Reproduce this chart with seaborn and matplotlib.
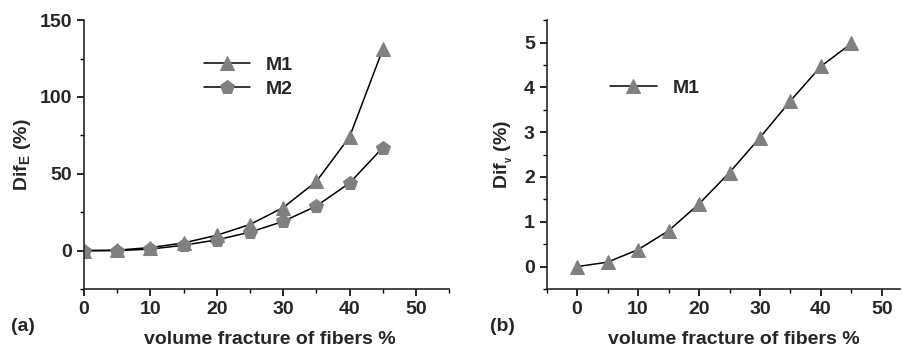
import pandas as pd
import seaborn as sns
import matplotlib.pyplot as plt
from matplotlib.ticker import MultipleLocator

# data
vf = [0, 5, 10, 15, 20, 25, 30, 35, 40, 45]
difE_m1 = [0, 0.3, 2, 5, 10, 17, 28, 45, 74, 131]
difE_m2 = [0, 0, 1, 3.5, 7, 12, 19, 29, 44, 67]
difv_m1 = [0, 0.1, 0.38, 0.8, 1.4, 2.1, 2.88, 3.7, 4.47, 4.98]

sns.set_style("ticks")
plt.rcParams['font.family'] = ['Liberation Sans', 'DejaVu Sans']
plt.rcParams['font.weight'] = 'bold'
plt.rcParams['mathtext.fontset'] = 'custom'
plt.rcParams['mathtext.rm'] = 'Liberation Sans:bold'
plt.rcParams['mathtext.default'] = 'rm'

fig = plt.figure(figsize=(9.02, 3.47), dpi=100)
axa = fig.add_axes([0.093, 0.167, 0.405, 0.775])
axb = fig.add_axes([0.606, 0.167, 0.392, 0.775])

grey = '#808080'
dfa = pd.DataFrame({'vf': vf * 2, 'dif': difE_m1 + difE_m2,
                    'model': ['M1'] * 10 + ['M2'] * 10})
sns.lineplot(data=dfa, x='vf', y='dif', style='model', markers=['^', 'p'],
             dashes=False, color='black', lw=1.1, markersize=10,
             markerfacecolor=grey, markeredgecolor=grey, ax=axa)
dfb = pd.DataFrame({'vf': vf, 'dif': difv_m1, 'model': ['M1'] * 10})
sns.lineplot(data=dfb, x='vf', y='dif', style='model', markers=['^'],
             dashes=False, color='black', lw=1.1, markersize=10,
             markerfacecolor=grey, markeredgecolor=grey, ax=axb)

axa.set_xlim(0, 55)
axa.set_ylim(-25, 150)
axa.xaxis.set_major_locator(MultipleLocator(10))
axa.xaxis.set_minor_locator(MultipleLocator(5))
axa.yaxis.set_major_locator(MultipleLocator(50))
axa.yaxis.set_minor_locator(MultipleLocator(25))
axa.set_ylabel('Dif$_{E}$ (%)', fontsize=14, fontweight='bold')

axb.set_xlim(-5, 53)
axb.set_ylim(-0.5, 5.5)
axb.xaxis.set_major_locator(MultipleLocator(10))
axb.xaxis.set_minor_locator(MultipleLocator(5))
axb.yaxis.set_major_locator(MultipleLocator(1))
axb.yaxis.set_minor_locator(MultipleLocator(0.5))
axb.set_ylabel('Dif$_{_{v}}$ (%)', fontsize=14, fontweight='bold')

for ax in (axa, axb):
    sns.despine(ax=ax)
    ax.spines['left'].set_linewidth(1.2)
    ax.spines['bottom'].set_linewidth(1.2)
    ax.tick_params(which='major', direction='out', length=5, width=1.2,
                   labelsize=14, color='black')
    ax.tick_params(which='minor', direction='out', length=3, width=1, color='black')
    for lab in ax.get_xticklabels() + ax.get_yticklabels():
        lab.set_fontweight('bold')
    ax.set_xlabel('volume fracture of fibers %', fontsize=14, fontweight='bold')

axa.xaxis.set_label_coords(0.51, -0.155)
axb.xaxis.set_label_coords(0.53, -0.155)

axa.legend(title=None, frameon=False, loc='upper left', bbox_to_anchor=(0.28, 0.93),
           prop={'size': 14, 'weight': 'bold'}, handlelength=2.4, labelspacing=0.3)
axb.legend(title=None, frameon=False, loc='upper left', bbox_to_anchor=(0.13, 0.845),
           prop={'size': 14, 'weight': 'bold'}, handlelength=2.4)
axa.yaxis.set_label_coords(-0.14, 0.5)
axb.yaxis.set_label_coords(-0.09, 0.5)

fig.text(0.012, 0.045, '(a)', fontsize=14, fontweight='bold')
fig.text(0.543, 0.045, '(b)', fontsize=14, fontweight='bold')

fig.savefig('out.png', dpi=100)
